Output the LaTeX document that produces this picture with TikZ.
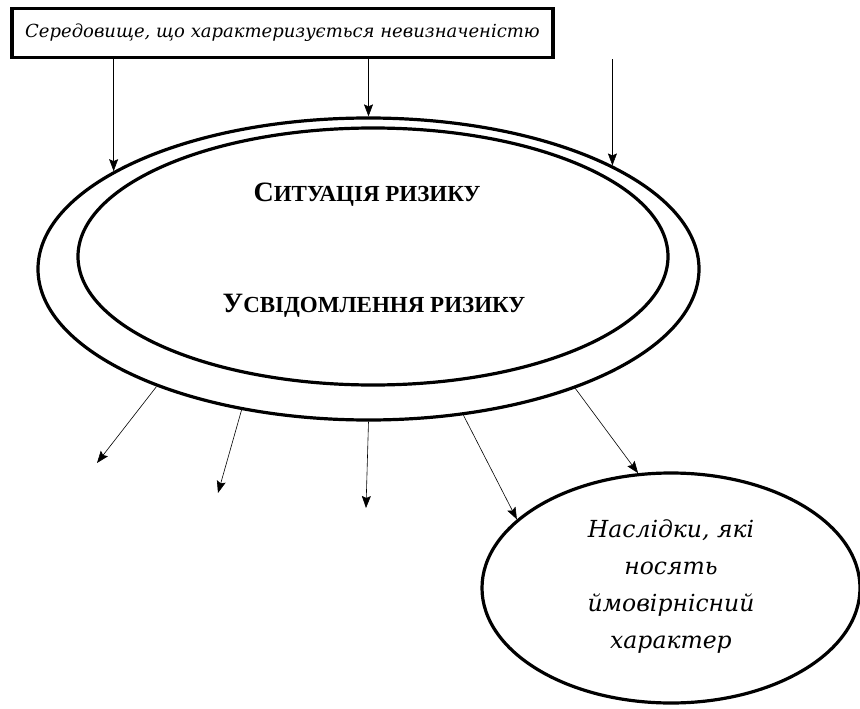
\documentclass[tikz,border=0pt]{standalone}
\usepackage{fontspec}
\setmainfont{Liberation Serif}
\newfontfamily\envfont{DejaVu Serif}
\usetikzlibrary{arrows.meta,shapes.geometric}

\begin{document}
\begin{tikzpicture}[x=1pt,y=-1pt,line width=.6pt,
  arr/.style={-{Stealth[length=12pt,width=9pt,inset=2pt]}},
  oval/.style={draw,ellipse,inner sep=0pt,line width=3.2pt},
  caps/.style={font=\bfseries\fontsize{23}{25}\selectfont},
  note/.style={font=\envfont\itshape\fontsize{18}{22}\selectfont}]
\path[use as bounding box] (0,0) rectangle (860,709);
% environment box
\node[draw,line width=3.2pt,minimum width=541pt,minimum height=49pt,inner sep=0pt,note] (env) at (282.5,33) {Середовище, що характеризується невизначеністю};
% risk situation
\node[oval,minimum width=661pt,minimum height=302pt] (outer) at (368.5,269) {};
\node[oval,minimum width=590pt,minimum height=257pt] (inner) at (373,256.5) {};
\node[caps] (sit) at (367,195) {{\fontsize{28}{30}\selectfont С}ИТУАЦІЯ РИЗИКУ};
\node[caps] (aware) at (374,306) {{\fontsize{28}{30}\selectfont У}СВІДОМЛЕННЯ РИЗИКУ};
% consequences
\node[oval,minimum width=378pt,minimum height=230pt] (res) at (671,588) {};
\node[note,font=\envfont\itshape\fontsize{23.5}{37}\selectfont,align=center] (restext) at (671,587) {Наслідки, які\\носять\\ймовірнісний\\характер};
\coordinate (d1) at (97,463);
\coordinate (d2) at (218,493);
\coordinate (d3) at (366,508);
\draw[arr] (env.south -| outer.159) -- (outer.159);
\draw[arr] (env.south -| outer.90) -- (outer.90);
\draw[arr] (env.south -| outer.23.7) -- (outer.23.7);
\draw[arr] (outer.209) -- (d1);
\draw[arr] (outer.228.7) -- (d2);
\draw[arr] (outer.270) -- (d3);
\draw[arr] (outer.303) -- (res.156);
\draw[arr] (outer.330) -- (res.106.5);
\end{tikzpicture}
\end{document}
